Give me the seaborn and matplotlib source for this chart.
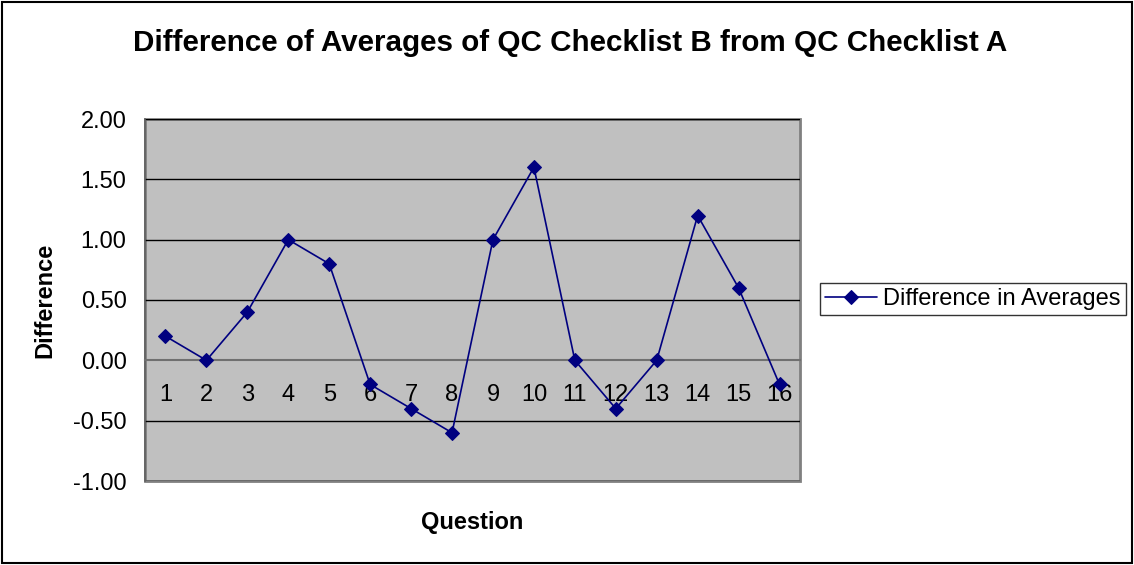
import matplotlib
matplotlib.use("Agg")
import matplotlib.pyplot as plt
import seaborn as sns
import pandas as pd
import numpy as np
from matplotlib.patches import Rectangle
from matplotlib.ticker import FixedLocator

questions = list(range(1, 17))
differences = [0.2, 0.0, 0.4, 1.0, 0.8, -0.2, -0.4, -0.6, 1.0, 1.6, 0.0, -0.4, 0.0, 1.2, 0.6, -0.2]
y_ticks = [-1.0, -0.5, 0.0, 0.5, 1.0, 1.5, 2.0]
series_name = "Difference in Averages"

df = pd.DataFrame({"Question": questions, "Difference": differences})

sns.set_style("white")
plt.rcParams['font.family'] = ['Liberation Sans', 'DejaVu Sans']
plt.rcParams['text.color'] = 'black'
plt.rcParams['axes.labelcolor'] = 'black'
plt.rcParams['xtick.color'] = 'black'
plt.rcParams['ytick.color'] = 'black'

fig = plt.figure(figsize=(11.34, 5.65), dpi=100)
ax = fig.add_axes([145/1134, 1-481/565, (800-145)/1134, (481-119)/565])
ax.set_facecolor("#C0C0C0")

# gridlines
for yv in y_ticks:
    if yv != 0.0:
        ax.axhline(yv, color="black", lw=1.0, zorder=1)

sns.lineplot(data=df, x="Question", y="Difference", ax=ax, color="#000080",
             marker="D", markersize=7, markeredgecolor="#000080", lw=1.2,
             label=series_name, zorder=3)

ax.set_xlim(0.5, 16.5)
ax.set_ylim(-1.0, 2.0)
ax.set_yticks(y_ticks)
ax.set_yticklabels([f"{v:.2f}" for v in y_ticks], fontsize=17)

# category axis at zero
ax.spines['bottom'].set_position(('data', 0))
ax.spines['bottom'].set_color('#707070')
ax.spines['bottom'].set_linewidth(1.5)
ax.spines['top'].set_visible(False)
ax.spines['right'].set_visible(False)
ax.spines['left'].set_color('#606060')
ax.spines['left'].set_linewidth(1.2)
ax.xaxis.set_major_locator(FixedLocator(questions))
ax.xaxis.set_minor_locator(FixedLocator([q + 0.5 for q in [0] + questions]))
ax.set_xticklabels([str(q) for q in questions], fontsize=17)
ax.tick_params(axis='x', which='major', length=0, pad=17)
ax.tick_params(axis='x', which='minor', length=4, width=1, color='black', direction='out')
ax.tick_params(axis='y', length=5.8, width=1, color='black', direction='out', pad=7.5)

# plot area border (right/bottom gray)
ax.add_patch(Rectangle((0, 0), 1, 1, transform=ax.transAxes, fill=False,
                       edgecolor='#808080', lw=2, zorder=0.5, clip_on=False))

ax.set_xlabel("Question", fontsize=17, fontweight='bold', labelpad=0)
ax.xaxis.set_label_coords(0.5, -0.083)
ax.set_ylabel("Difference", fontsize=17, fontweight='bold', labelpad=10)
ax.yaxis.set_label_coords(-0.135, 0.5)

fig.text(570 / 1134, 1 - 43/565,
         "Difference of Averages of QC Checklist B from QC Checklist A",
         fontsize=21.3, fontweight='bold', ha='center', va='center')

leg = ax.legend(loc='center left', bbox_to_anchor=(820/1134, 1-299/565),
                bbox_transform=fig.transFigure, fontsize=17, frameon=True,
                fancybox=False, edgecolor='black', handlelength=2.2,
                borderpad=0.22, handletextpad=0.25, borderaxespad=0)
leg.get_frame().set_linewidth(1.0)

# outer border
fig.add_artist(Rectangle((0.002, 0.003), 0.996, 0.994, transform=fig.transFigure,
                         fill=False, edgecolor='black', lw=1.5))

fig.savefig("out.png", dpi=100)
